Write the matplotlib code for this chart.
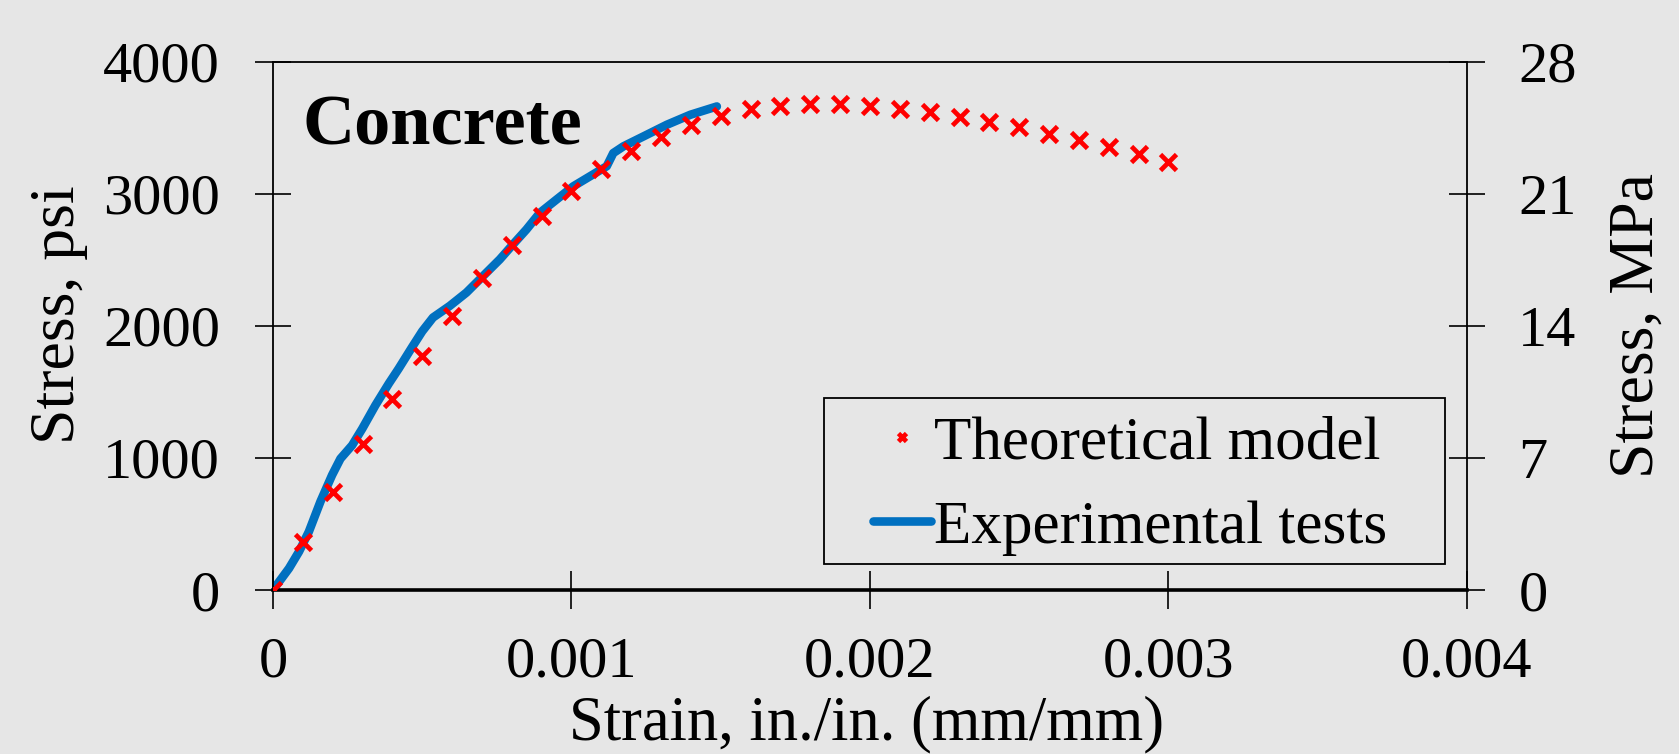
import numpy as np
import matplotlib
matplotlib.use("Agg")
import matplotlib.pyplot as plt
from matplotlib.patches import Rectangle


# theoretical model (psi), one point every 0.0001 strain
model_strain = [
    0.0, 0.0001, 0.0002, 0.0003, 0.0004, 0.0005, 0.0006, 0.0007,
    0.0008, 0.0009, 0.0010, 0.0011, 0.0012, 0.0013, 0.0014, 0.0015,
    0.0016, 0.0017, 0.0018, 0.0019, 0.0020, 0.0021, 0.0022, 0.0023,
    0.0024, 0.0025, 0.0026, 0.0027, 0.0028, 0.0029, 0.0030
]
model_stress = [
    0, 365, 746, 1103, 1444, 1769, 2077, 2361,
    2613, 2832, 3026, 3189, 3327, 3432, 3521, 3594,
    3643, 3667, 3684, 3684, 3667, 3643, 3619, 3586,
    3545, 3505, 3456, 3408, 3359, 3302, 3245
]

# experimental test curve (psi)
test_strain = [
    0.0, 0.0000536, 0.000087, 0.00012, 0.000159, 0.000198, 0.000226,
    0.000265, 0.000299, 0.000343, 0.000388, 0.000421, 0.000466,
    0.000500, 0.000536, 0.000592, 0.000648, 0.000704, 0.00076,
    0.000804, 0.000849, 0.000894, 0.00095, 0.001006, 0.001062,
    0.001118, 0.00114, 0.001174, 0.001241, 0.001319, 0.001398, 0.001487
]
test_stress = [
    0, 164, 290, 441, 670, 871, 995,
    1096, 1222, 1399, 1564, 1677, 1840,
    1960, 2064, 2152, 2253, 2379, 2505,
    2618, 2731, 2857, 2958, 3058, 3134,
    3210, 3310, 3361, 3436, 3524, 3600, 3663
]

x_ticks = [0, 0.001, 0.002, 0.003, 0.004]
x_tick_labels = ["0", "0.001", "0.002", "0.003", "0.004"]
psi_ticks = [0, 1000, 2000, 3000, 4000]
mpa_ticks = [0, 7, 14, 21, 28]

BG = "#e6e6e6"
FONT = "Liberation Serif"


def main():

    plt.rcParams["font.family"] = [FONT, "DejaVu Serif"]

    fig = plt.figure(figsize=(16.79, 7.54), dpi=100, facecolor=BG)

    ax = fig.add_axes([0.1626, 0.2175, 0.7111, 0.7003])
    ax.set_facecolor(BG)

    ax.plot(
        test_strain,
        test_stress,
        color="#0070c0",
        linewidth=6.2,
        solid_capstyle="round",
        solid_joinstyle="round",
        label="Experimental tests",
        zorder=2,
    )

    ax.plot(
        model_strain,
        model_stress,
        linestyle="none",
        marker="x",
        markersize=11,
        markeredgewidth=3.4,
        color="#ff0000",
        label="Theoretical model",
        zorder=3,
    )

    ax.set_xlim(0, 0.004)
    ax.set_ylim(0, 4000)
    ax.set_xticks(x_ticks)
    ax.set_xticklabels(x_tick_labels)
    ax.set_yticks(psi_ticks)

    ax.tick_params(
        axis="x",
        direction="inout",
        length=27,
        width=1.2,
        labelsize=42,
        pad=20,
    )
    ax.tick_params(
        axis="y",
        direction="inout",
        length=26,
        width=1.2,
        labelsize=42,
        pad=25,
    )

    for spine in ax.spines.values():
        spine.set_linewidth(1.3)
        spine.set_color("black")
    ax.spines["bottom"].set_linewidth(2.6)

    ax2 = ax.twinx()
    ax2.set_ylim(0, 28)
    ax2.set_yticks(mpa_ticks)
    ax2.tick_params(
        axis="y",
        direction="inout",
        length=26,
        width=1.2,
        labelsize=42,
        pad=24,
    )
    for spine in ax2.spines.values():
        spine.set_visible(False)

    ax.text(
        0.025,
        0.843,
        "Concrete",
        transform=ax.transAxes,
        fontsize=52,
        fontweight="bold",
        va="baseline",
        ha="left",
    )

    # legend frame drawn on its own, entries placed inside it
    ax.add_patch(
        Rectangle(
            (0.4615, 0.049),
            0.5201,
            0.3146,
            transform=ax.transAxes,
            facecolor=BG,
            edgecolor="black",
            linewidth=1.3,
            zorder=4,
        )
    )

    handles, labels = ax.get_legend_handles_labels()
    leg = ax.legend(
        handles[::-1],
        labels[::-1],
        loc="upper left",
        bbox_to_anchor=(0.5025, 0.331),
        fontsize=44,
        frameon=False,
        handlelength=0.95,
        handletextpad=0.05,
        borderpad=0,
        labelspacing=0.47,
        markerscale=0.55,
        borderaxespad=0,
    )
    leg.set_zorder(5)

    fig.text(
        867 / 1679,
        1 - 739 / 754,
        "Strain, in./in. (mm/mm)",
        fontsize=45,
        ha="center",
        va="baseline",
    )
    fig.text(
        59 / 1679,
        1 - 315 / 754,
        "Stress, psi",
        fontsize=46,
        rotation=90,
        ha="center",
        va="center",
    )
    fig.text(
        1638 / 1679,
        1 - 325 / 754,
        "Stress, MPa",
        fontsize=46,
        rotation=90,
        ha="center",
        va="center",
    )

    fig.savefig("out.png", dpi=100, facecolor=BG)
    plt.close(fig)


if __name__ == "__main__":
    main()
